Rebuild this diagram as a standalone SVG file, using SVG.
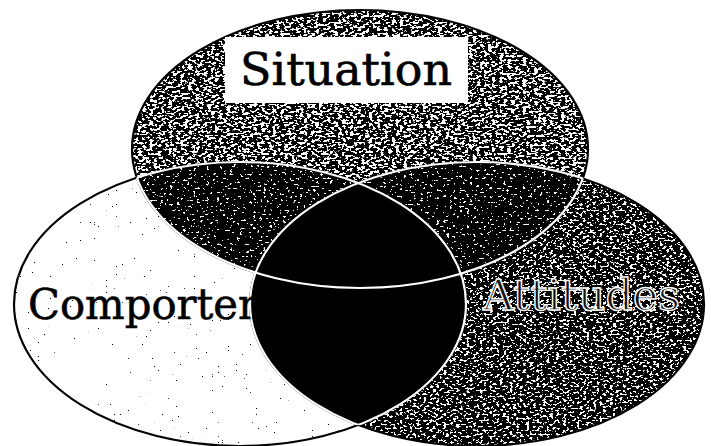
<svg xmlns="http://www.w3.org/2000/svg" xmlns:xlink="http://www.w3.org/1999/xlink" width="711" height="446" viewBox="0 0 711 446">
  <defs>
    <style>
      .lbl{font-family:"DejaVu Serif","Liberation Serif",serif;}
      .dark{fill:#000;stroke:#000;stroke-width:0.6}
      .edge{fill:none;stroke:#000;stroke-width:2.2}
      .wedge{fill:none;stroke:#fff;stroke-width:2.2}
    </style>
    <ellipse id="eS" cx="360" cy="149" rx="228" ry="139"/>
    <ellipse id="eL" cx="240" cy="304" rx="226" ry="142"/>
    <ellipse id="eR" cx="477" cy="304" rx="227" ry="142"/>
    <clipPath id="cS"><use xlink:href="#eS"/></clipPath>
    <clipPath id="cL"><use xlink:href="#eL"/></clipPath>
    <clipPath id="cR"><use xlink:href="#eR"/></clipPath>
    <clipPath id="cLR"><use xlink:href="#eL"/><use xlink:href="#eR"/></clipPath>
    <clipPath id="cSR"><use xlink:href="#eS"/><use xlink:href="#eR"/></clipPath>
    <clipPath id="cSL"><use xlink:href="#eS"/><use xlink:href="#eL"/></clipPath>
    <filter id="fS" filterUnits="userSpaceOnUse" x="0" y="0" width="711" height="446" color-interpolation-filters="sRGB">
      <feTurbulence type="fractalNoise" baseFrequency="0.26 0.45" numOctaves="2" seed="4" result="n"/>
      <feColorMatrix in="n" type="matrix" values="0 0 0 0 1  0 0 0 0 1  0 0 0 0 1  -40 0 0 0 19" result="w"/>
      <feComposite in="w" in2="SourceAlpha" operator="in" result="wc"/>
      <feMerge><feMergeNode in="SourceGraphic"/><feMergeNode in="wc"/></feMerge>
    </filter>
    <filter id="fR" filterUnits="userSpaceOnUse" x="0" y="0" width="711" height="446" color-interpolation-filters="sRGB">
      <feTurbulence type="fractalNoise" baseFrequency="0.3 0.5" numOctaves="2" seed="9" result="n"/>
      <feColorMatrix in="n" type="matrix" values="0 0 0 0 1  0 0 0 0 1  0 0 0 0 1  -40 0 0 0 17.4" result="w"/>
      <feComposite in="w" in2="SourceAlpha" operator="in" result="wc"/>
      <feMerge><feMergeNode in="SourceGraphic"/><feMergeNode in="wc"/></feMerge>
    </filter>
    <filter id="fI" filterUnits="userSpaceOnUse" x="0" y="0" width="711" height="446" color-interpolation-filters="sRGB">
      <feTurbulence type="fractalNoise" baseFrequency="0.3 0.5" numOctaves="2" seed="13" result="n"/>
      <feColorMatrix in="n" type="matrix" values="0 0 0 0 1  0 0 0 0 1  0 0 0 0 1  -40 0 0 0 14" result="w"/>
      <feComposite in="w" in2="SourceAlpha" operator="in" result="wc"/>
      <feMerge><feMergeNode in="SourceGraphic"/><feMergeNode in="wc"/></feMerge>
    </filter>
    <filter id="fD" filterUnits="userSpaceOnUse" x="0" y="0" width="711" height="446" color-interpolation-filters="sRGB">
      <feTurbulence type="fractalNoise" baseFrequency="0.5" numOctaves="1" seed="21" result="n"/>
      <feColorMatrix in="n" type="matrix" values="0 0 0 0 0  0 0 0 0 0  0 0 0 0 0  40 0 0 0 -30" result="w"/>
      <feComposite in="w" in2="SourceAlpha" operator="in" result="wc"/>
      <feMerge><feMergeNode in="SourceGraphic"/><feMergeNode in="wc"/></feMerge>
    </filter>
  </defs>
  <rect width="711" height="446" fill="#fff"/>

  <g id="comportement">
    <use xlink:href="#eL" fill="#fff" filter="url(#fD)"/>
  </g>
  <g id="situation">
    <use xlink:href="#eS" fill="#000" filter="url(#fS)"/>
  </g>
  <g id="attitudes">
    <use xlink:href="#eR" fill="#000" filter="url(#fR)"/>
  </g>
  <g id="overlaps">
    <g clip-path="url(#cL)"><use xlink:href="#eS" fill="#000" filter="url(#fI)"/></g>
    <g clip-path="url(#cR)"><use xlink:href="#eS" fill="#000" filter="url(#fI)"/></g>
    <g clip-path="url(#cR)"><use xlink:href="#eL" fill="#000"/></g>
  </g>

  <g id="connectors">
    <use xlink:href="#eS" class="edge"/>
    <use xlink:href="#eL" class="edge"/>
    <use xlink:href="#eR" class="edge"/>
    <g clip-path="url(#cLR)"><use xlink:href="#eS" class="wedge"/></g>
    <g clip-path="url(#cSR)"><use xlink:href="#eL" class="wedge"/></g>
    <g clip-path="url(#cSL)"><use xlink:href="#eR" class="wedge"/></g>
  </g>

  <g id="labels">
    <rect x="225" y="37" width="243" height="66" fill="#fff"/>
    <text class="lbl dark" x="240" y="85" font-size="45" textLength="212" lengthAdjust="spacingAndGlyphs">Situation</text>
    <text class="lbl dark" x="28" y="319" font-size="42" textLength="318" lengthAdjust="spacingAndGlyphs">Comportement</text>
    <text class="lbl" x="483" y="310" font-size="43" textLength="197" lengthAdjust="spacingAndGlyphs" fill="#111" stroke="#fff" stroke-width="1.4">Attitudes</text>
  </g>
</svg>
